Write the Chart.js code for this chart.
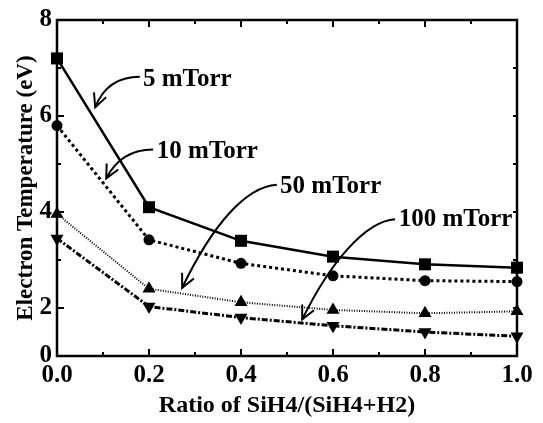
<!DOCTYPE html>
<html>
<head>
<meta charset="utf-8">
<script src="https://cdn.jsdelivr.net/npm/chart.js@4/dist/chart.umd.min.js"></script>
<style>
  body { margin: 0; background: #fff; }
</style>
</head>
<body>
<canvas id="c" width="543" height="423"></canvas>
<script>
// SiH4 ratio on the x axis
const ratio = [0.0, 0.2, 0.4, 0.6, 0.8, 1.0];

// electron temperature (eV) per pressure
const te5mTorr = [7.2, 4.1, 3.4, 3.07, 2.91, 2.84];
const te10mTorr = [5.8, 3.42, 2.93, 2.67, 2.57, 2.55];
const te50mTorr = [3.96, 2.4, 2.12, 1.96, 1.89, 1.93];
const te100mTorr = [3.45, 2.03, 1.8, 1.63, 1.5, 1.41];

const xTicks = [0, 0.2, 0.4, 0.6, 0.8, 1.0];
const xTickLabels = ['0.0', '0.2', '0.4', '0.6', '0.8', '1.0'];
// the original figure's bottom edge sits one unit below "2" but is labelled "0"
const yTicks = [1, 2, 4, 6, 8];
const yTickLabels = ['0', '2', '4', '6', '8'];

// callouts: label, text anchor, curve start, two control points, arrow tip (data units)
const callouts = [
  { text: '5 mTorr',   at: [0.187, 6.76], from: [0.180, 6.82], c1: [0.133, 6.82], c2: [0.100, 6.60], to: [0.083, 6.18] },
  { text: '10 mTorr',  at: [0.217, 5.25], from: [0.209, 5.30], c1: [0.159, 5.30], c2: [0.126, 5.05], to: [0.107, 4.70] },
  { text: '50 mTorr',  at: [0.485, 4.53], from: [0.478, 4.57], c1: [0.409, 4.53], c2: [0.337, 3.71], to: [0.272, 2.42] },
  { text: '100 mTorr', at: [0.743, 3.85], from: [0.735, 3.85], c1: [0.670, 3.81], c2: [0.593, 2.94], to: [0.533, 1.76] }
];

const FONT = '"Liberation Serif", "Times New Roman", serif';

function pts(ys) {
  return ratio.map((x, i) => ({ x: x, y: ys[i] }));
}

const framePlugin = {
  id: 'frame',
  beforeDatasetsDraw(chart) {
    const { ctx, chartArea: a, scales: { x, y } } = chart;
    ctx.save();
    ctx.strokeStyle = '#000';
    ctx.lineWidth = 2.5;
    ctx.strokeRect(a.left, a.top, a.right - a.left, a.bottom - a.top);
    ctx.lineWidth = 2;
    ctx.beginPath();
    for (let k = 1; k < 10; k++) {
      const px = x.getPixelForValue(k / 10);
      const len = k % 2 === 0 ? 7 : 4;
      ctx.moveTo(px, a.bottom); ctx.lineTo(px, a.bottom - len);
      ctx.moveTo(px, a.top); ctx.lineTo(px, a.top + len);
    }
    for (let v = 2; v < 8; v++) {
      const py = y.getPixelForValue(v);
      const len = v % 2 === 0 ? 7 : 4;
      ctx.moveTo(a.left, py); ctx.lineTo(a.left + len, py);
      ctx.moveTo(a.right, py); ctx.lineTo(a.right - 4, py);
    }
    ctx.stroke();
    ctx.restore();
  },
  afterDraw(chart) {
    const { ctx, scales: { x, y } } = chart;
    const P = p => [x.getPixelForValue(p[0]), y.getPixelForValue(p[1])];
    ctx.save();
    ctx.strokeStyle = '#000';
    ctx.fillStyle = '#000';
    ctx.lineWidth = 2;
    ctx.font = 'bold 25px ' + FONT;
    ctx.textBaseline = 'middle';
    ctx.textAlign = 'left';
    callouts.forEach(c => {
      const s = P(c.from), c1 = P(c.c1), c2 = P(c.c2), e = P(c.to), t = P(c.at);
      ctx.beginPath();
      ctx.moveTo(s[0], s[1]);
      ctx.bezierCurveTo(c1[0], c1[1], c2[0], c2[1], e[0], e[1]);
      const ang = Math.atan2(e[1] - c2[1], e[0] - c2[0]);
      const hl = 15, hw = 0.45;
      ctx.moveTo(e[0] - hl * Math.cos(ang - hw), e[1] - hl * Math.sin(ang - hw));
      ctx.lineTo(e[0], e[1]);
      ctx.lineTo(e[0] - hl * Math.cos(ang + hw), e[1] - hl * Math.sin(ang + hw));
      ctx.stroke();
      ctx.fillText(c.text, t[0], t[1]);
    });
    ctx.restore();
  }
};

const common = {
  borderColor: '#000',
  backgroundColor: '#000',
  pointBackgroundColor: '#000',
  pointBorderColor: '#000',
  pointBorderWidth: 0,
  tension: 0,
  clip: false
};

new Chart(document.getElementById('c'), {
  type: 'line',
  data: {
    datasets: [
      Object.assign({ label: '5 mTorr', data: pts(te5mTorr), borderWidth: 2.5,
        pointStyle: 'rect', pointRadius: 8.5 }, common),
      Object.assign({ label: '10 mTorr', data: pts(te10mTorr), borderWidth: 3, borderDash: [3, 3],
        pointStyle: 'circle', pointRadius: 5.5 }, common),
      Object.assign({ label: '50 mTorr', data: pts(te50mTorr), borderWidth: 2, borderDash: [1, 1.5],
        pointStyle: 'triangle', pointRadius: 7.5 }, common),
      Object.assign({ label: '100 mTorr', data: pts(te100mTorr), borderWidth: 3, borderDash: [6, 2, 2, 2],
        pointStyle: 'triangle', pointRotation: 180, pointRadius: 7.5 }, common)
    ]
  },
  options: {
    responsive: false,
    animation: false,
    events: [],
    layout: { padding: { top: 17, right: 26, left: 0, bottom: 0 } },
    plugins: { legend: { display: false }, tooltip: { enabled: false } },
    scales: {
      x: {
        type: 'linear',
        min: 0,
        max: 1,
        grid: { display: false, drawTicks: false },
        border: { display: false },
        afterBuildTicks: s => { s.ticks = xTicks.map(v => ({ value: v })); },
        afterFit: s => { s.height = 67; },
        ticks: {
          color: '#000',
          padding: 5,
          maxRotation: 0,
          font: { family: FONT, size: 25, weight: 'bold' },
          callback: (v, i) => xTickLabels[i]
        },
        title: {
          display: true,
          text: 'Ratio of SiH4/(SiH4+H2)',
          color: '#000',
          padding: { top: 0, bottom: 3 },
          font: { family: FONT, size: 24, weight: 'bold' }
        }
      },
      y: {
        type: 'linear',
        min: 1,
        max: 8,
        grid: { display: false, drawTicks: false },
        border: { display: false },
        afterBuildTicks: s => { s.ticks = yTicks.map(v => ({ value: v })); },
        afterFit: s => { s.width = 57; },
        ticks: {
          color: '#000',
          padding: 5,
          font: { family: FONT, size: 25, weight: 'bold' },
          callback: (v, i) => yTickLabels[i]
        },
        title: {
          display: true,
          text: 'Electron Temperature (eV)',
          color: '#000',
          padding: { top: 12, bottom: 0 },
          font: { family: FONT, size: 23, weight: 'bold' }
        }
      }
    }
  },
  plugins: [framePlugin]
});
</script>
</body>
</html>
